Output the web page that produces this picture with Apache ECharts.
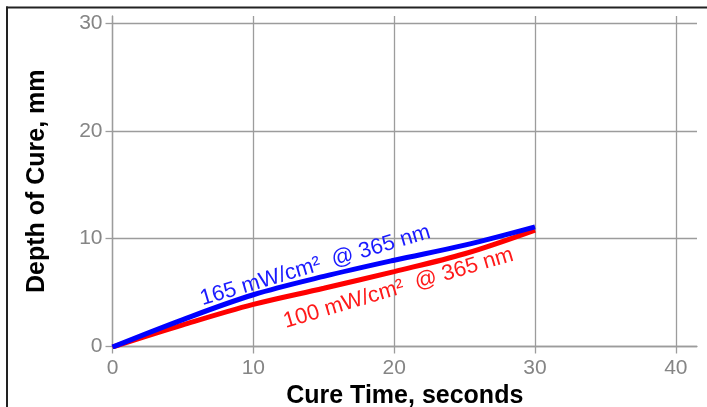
<!DOCTYPE html>
<html>
<head>
<meta charset="utf-8">
<script src="https://cdn.jsdelivr.net/npm/echarts@6/dist/echarts.min.js"></script>
<style>
html,body{margin:0;padding:0;background:#fff;}
#chart{width:707px;height:407px;}
</style>
</head>
<body>
<div id="chart"></div>
<script>
// Data
const cureTime = [0, 5, 10, 15, 20, 25, 30];
const depth165 = [-0.05, 2.5, 4.8, 6.5, 8.0, 9.4, 11.1];
const depth100 = [-0.05, 2.0, 3.9, 5.4, 6.95, 8.6, 10.8];
const xTicks = [0, 10, 20, 30, 40];
const yTicks = [0, 10, 20, 30];
const label165 = '165 mW/cm\u00b2  @ 365 nm';
const label100 = '100 mW/cm\u00b2  @ 365 nm';
const label165At = [14.4, 7.5];
const label100At = [20.3, 5.4];

const chart = echarts.init(document.getElementById('chart'));
const gridColor = '#9c9c9c';
const fontFam = 'Liberation Sans, Arial, sans-serif';

const option = {
  animation: false,
  backgroundColor: '#fff',
  grid: { left: 112.5, right: 10, top: 16, bottom: 60.5, containLabel: false, outerBoundsMode: 'none' },
  xAxis: {
    type: 'value', min: 0, max: 41.5,
    name: 'Cure Time, seconds', nameLocation: 'middle', nameGap: 30,
    nameTextStyle: { fontFamily: fontFam, fontWeight: 'bold', fontSize: 25, color: '#000' },
    axisLine: { show: true, lineStyle: { color: gridColor, width: 1.3 } },
    axisTick: { show: true, length: 7, lineStyle: { color: gridColor, width: 1.3 }, customValues: xTicks },
    axisLabel: { customValues: xTicks, fontFamily: fontFam, fontSize: 21, color: '#858585', margin: 11 },
    splitLine: { show: true, lineStyle: { color: gridColor, width: 1.3 } }
  },
  yAxis: {
    type: 'value', min: 0, max: 30.65,
    name: 'Depth of Cure, mm', nameLocation: 'middle', nameGap: 63, nameRotate: 90,
    nameTextStyle: { fontFamily: fontFam, fontWeight: 'bold', fontSize: 25, color: '#000' },
    axisLine: { show: true, lineStyle: { color: gridColor, width: 1.3 } },
    axisTick: { show: true, length: 7, lineStyle: { color: gridColor, width: 1.3 }, customValues: yTicks },
    axisLabel: { customValues: yTicks, fontFamily: fontFam, fontSize: 21, color: '#858585', margin: 10 },
    splitLine: { show: true, lineStyle: { color: gridColor, width: 1.3 } }
  },
  series: [
    {
      type: 'line', name: '100', data: cureTime.map((t, i) => [t, depth100[i]]),
      smooth: 0.35, showSymbol: false, lineStyle: { color: '#ff0000', width: 5 }, z: 3
    },
    {
      type: 'line', name: '165', data: cureTime.map((t, i) => [t, depth165[i]]),
      smooth: 0.35, showSymbol: false, lineStyle: { color: '#0000ff', width: 5 }, z: 4
    }
  ]
};
chart.setOption(option);

const p165 = chart.convertToPixel({ gridIndex: 0 }, label165At);
const p100 = chart.convertToPixel({ gridIndex: 0 }, label100At);
const rot = 16.5 * Math.PI / 180;
chart.setOption({
  graphic: [
    { type: 'line', shape: { x1: 6, y1: 7.5, x2: 707, y2: 7.5 }, style: { stroke: '#222', lineWidth: 2 }, z: 100 },
    { type: 'line', shape: { x1: 7, y1: 6.5, x2: 7, y2: 407 }, style: { stroke: '#222', lineWidth: 2 }, z: 100 },
    { type: 'text', x: p165[0], y: p165[1], rotation: rot, z: 50,
      style: { text: label165, fill: '#1a1aff', font: '22px Liberation Sans, Arial, sans-serif', align: 'center', verticalAlign: 'middle' } },
    { type: 'text', x: p100[0], y: p100[1], rotation: rot, z: 50,
      style: { text: label100, fill: '#ff1a1a', font: '22px Liberation Sans, Arial, sans-serif', align: 'center', verticalAlign: 'middle' } }
  ]
});
</script>
</body>
</html>
